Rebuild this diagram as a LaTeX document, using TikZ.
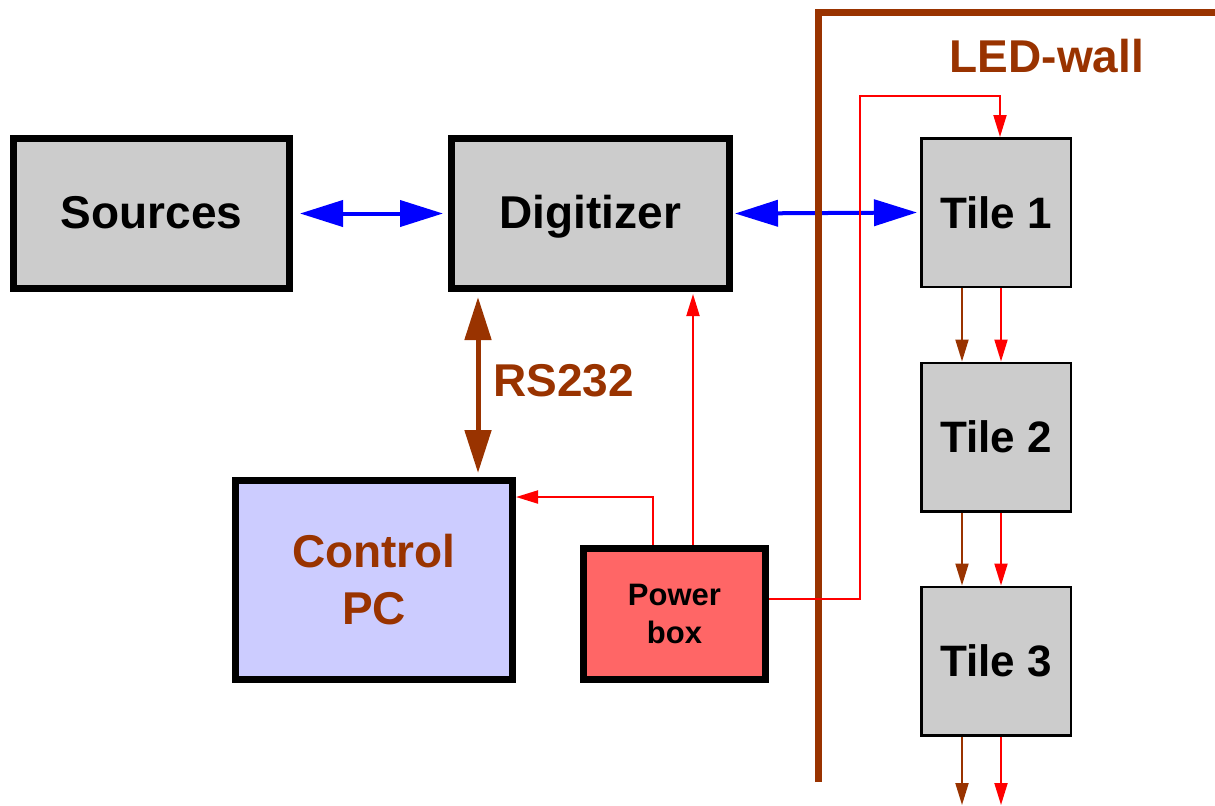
\documentclass[tikz,border=0pt]{standalone}
\usepackage{fontspec}
\setmainfont{Liberation Sans}
\usetikzlibrary{arrows.meta,calc}
\definecolor{wallbrown}{HTML}{993300}
\definecolor{boxgray}{HTML}{CCCCCC}
\definecolor{pcblue}{HTML}{CCCCFF}
\definecolor{powred}{HTML}{FF6666}
\begin{document}
\begin{tikzpicture}[x=0.5pt,y=-0.5pt,
  bigbox/.style={draw=black,line width=3.5pt,inner sep=0pt,font=\fontsize{23}{28.5}\selectfont\bfseries,align=center},
  onebox/.style={bigbox,fill=boxgray,text height=16.5pt,text depth=1.5pt},
  tilebox/.style={draw=black,line width=1.25pt,fill=boxgray,inner sep=0pt,minimum width=74.75pt,minimum height=74.25pt,font=\fontsize{22}{26}\selectfont\bfseries},
  bluearr/.style={draw=blue,line width=2pt,{Triangle[length=21.5pt,width=13pt]}-{Triangle[length=21.5pt,width=13pt]}},
  rsarr/.style={draw=wallbrown,line width=2.5pt,{Triangle[length=21.5pt,width=13pt]}-{Triangle[length=21.5pt,width=13pt]}},
  redarr/.style={draw=red,line width=1pt,-{Triangle[length=11pt,width=6.5pt]}},
  brownarr/.style={draw=wallbrown,line width=1pt,-{Triangle[length=11pt,width=6.5pt]}},
  lbl/.style={text=wallbrown,font=\fontsize{23}{28}\selectfont\bfseries,inner sep=0pt}]
\useasboundingbox (0,0) rectangle (1215,805);
% boxes
\node[onebox,minimum width=138pt,minimum height=75pt] (src) at (151.5,213.5) {Sources};
\node[onebox,minimum width=139pt,minimum height=75pt] (dig) at (590.5,213.5) {Digitizer};
\node[bigbox,fill=pcblue,text=wallbrown,minimum width=138.5pt,minimum height=99.5pt] (pc) at (374,580) {Control\\PC};
\node[bigbox,fill=powred,minimum width=91pt,minimum height=65.5pt,font=\fontsize{15.5}{19}\selectfont\bfseries] (pow) at (674.5,614) {Power\\box};
\node[tilebox] (t1) at (996,212.5) {Tile 1};
\node[tilebox] (t2) at (996,437) {Tile 2};
\node[tilebox] (t3) at (996,661) {Tile 3};
% labels
\node[lbl,anchor=west] (rs) at (493,381) {RS232};
\node[lbl] (led) at (1047,56) {LED-wall};
% blue links
\draw[bluearr] ($(src.east)+(7,0)$) -- ($(dig.west)+(-5,0)$);
\draw[bluearr] ($(dig.east)+(2,0)$) -- ($(t1.west)+(-3,0)$);
% RS232
\draw[rsarr] ($(dig.south -| 478,0)+(0,5)$) -- ($(pc.north -| 478,0)+(0,-4)$);
% LED wall
\draw[draw=wallbrown,line width=3.5pt] (818.5,782) -- (818.5,12.5) -- (1215,12.5);
% red power lines
\draw[redarr] (pow.north -| 653,0) |- (pc.east |- 0,497);
\draw[redarr] (pow.north -| 693,0) -- ($(dig.south -| 693,0)+(0,2)$);
\coordinate (c1) at (860,96);
\draw[redarr] ($(pow.east)+(0,-15)$) -| (c1) -| (t1.north -| 1000,0);
% tile chain
\foreach \a/\b in {t1/t2,t2/t3}{
  \draw[brownarr] (\a.south -| 962,0) -- (\b.north -| 962,0);
  \draw[redarr] (\a.south -| 1001,0) -- (\b.north -| 1001,0);
}
\coordinate (e1) at (962,805);
\coordinate (e2) at (1001,805);
\draw[brownarr] (t3.south -| 962,0) -- (e1);
\draw[redarr] (t3.south -| 1001,0) -- (e2);
\end{tikzpicture}
\end{document}
